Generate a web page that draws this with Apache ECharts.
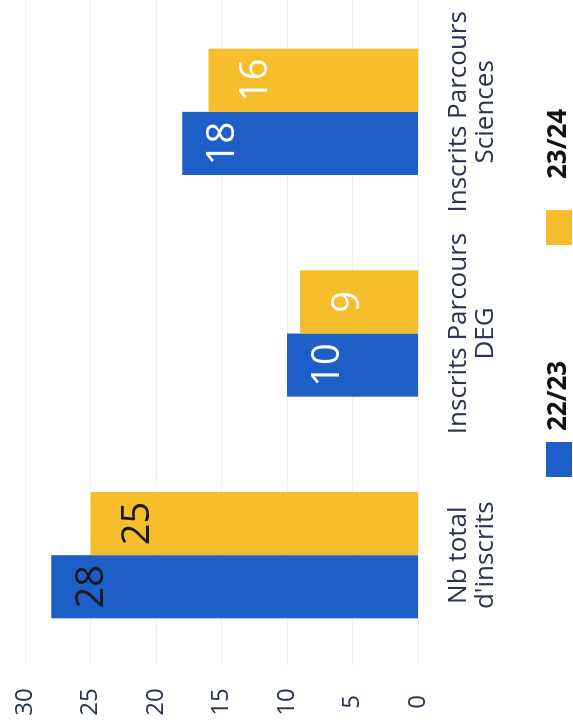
<!DOCTYPE html>
<html>
<head>
<meta charset="utf-8">
<script src="https://cdn.jsdelivr.net/npm/echarts@6/dist/echarts.min.js"></script>
<style>
  html, body { margin: 0; padding: 0; background: #fff; overflow: hidden; }
  /* the reference is a column chart turned a quarter turn to the left */
  #chart {
    position: absolute; left: 0; top: 728px;
    width: 728px; height: 573px;
    transform-origin: 0 0; transform: rotate(-90deg);
  }
</style>
</head>
<body>
<div id="chart"></div>
<script>
const categories = ["Nb total\nd'inscrits", 'Inscrits Parcours\nDEG', 'Inscrits Parcours\nSciences'];
const seriesNames = ['22/23', '23/24'];
const values2223 = [28, 10, 18];
const values2324 = [25, 9, 16];
const valueTicks = { min: 0, max: 30, interval: 5 };

const BLUE = '#1d5fc6';
const YELLOW = '#f6bd2c';
const INK = '#2a3350';
const FONT = 'Open Sans';

const chart = echarts.init(document.getElementById('chart'));

// first category gets dark labels, the rest white (as in the picture)
const withLabels = vals => vals.map((v, i) => ({
  value: v,
  label: { color: i === 0 ? '#1a1a22' : '#ffffff' },
}));

// one legend per series so each can sit where it does in the picture
const legendItem = (name, left, gap) => ({
  data: [name], left, top: 541,
  itemWidth: 35, itemHeight: 26,
  icon: 'rect',
  textStyle: {
    fontFamily: FONT, fontSize: 26, fontWeight: 'bold', color: '#111',
    padding: [0, 0, 0, gap],
  },
});

chart.setOption({
  animation: false,
  grid: { left: 62, right: 1, top: 25, bottom: 155 },
  legend: [
    legendItem(seriesNames[0], 246, 6),
    legendItem(seriesNames[1], 478, 26),
  ],
  xAxis: {
    type: 'category',
    data: categories,
    axisLine: { show: false },
    axisTick: { show: false },
    axisLabel: { interval: 0, margin: 27, color: INK, fontFamily: FONT, fontSize: 26, lineHeight: 27 },
  },
  yAxis: {
    type: 'value',
    min: valueTicks.min, max: valueTicks.max, interval: valueTicks.interval,
    axisLine: { show: false },
    axisTick: { show: false },
    splitLine: { lineStyle: { color: '#f0f0f0', width: 1 } },
    axisLabel: { color: INK, fontFamily: FONT, fontSize: 24, align: 'center', margin: 36 },
  },
  series: [
    {
      name: seriesNames[0], type: 'bar',
      data: withLabels(values2223),
      itemStyle: { color: BLUE },
      barGap: '0%', barCategoryGap: '43%',
      label: { show: true, position: 'insideTop', distance: 22, fontFamily: FONT, fontSize: 38 },
    },
    {
      name: seriesNames[1], type: 'bar',
      data: withLabels(values2324),
      itemStyle: { color: YELLOW },
      barGap: '0%', barCategoryGap: '43%',
      label: { show: true, position: 'insideTop', distance: 29, fontFamily: FONT, fontSize: 38 },
    },
  ],
});
</script>
</body>
</html>
